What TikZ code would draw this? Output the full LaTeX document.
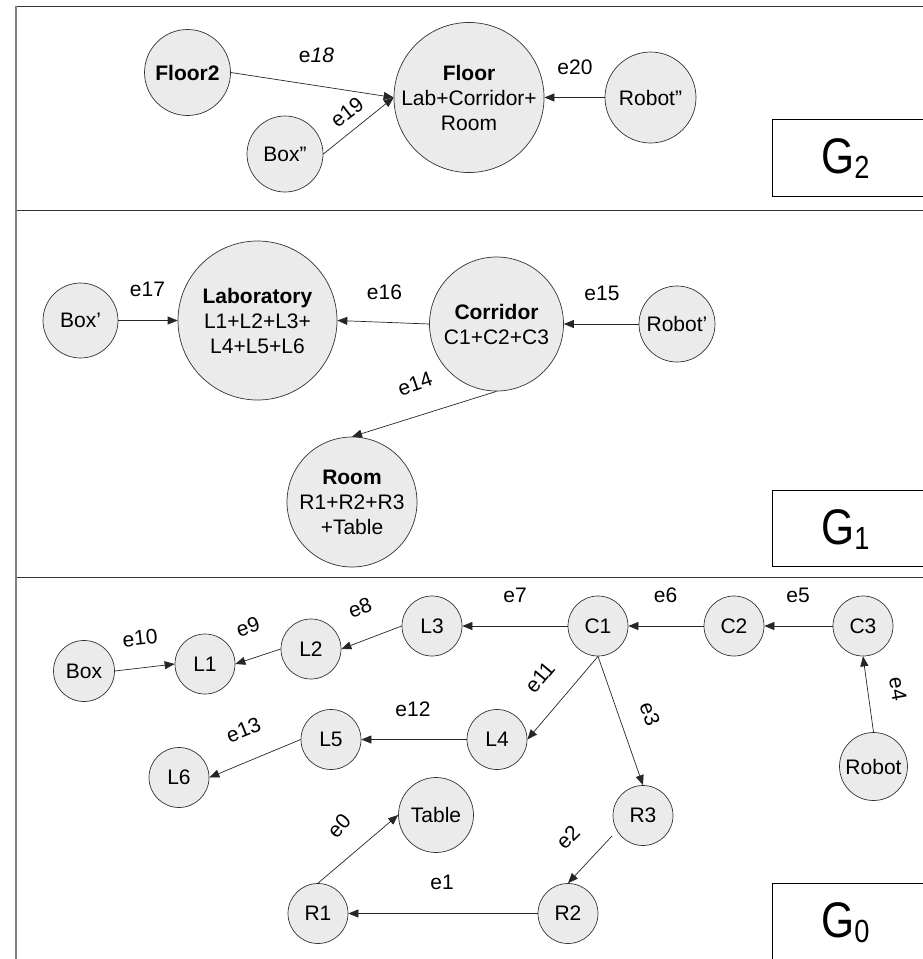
\documentclass[tikz,border=0pt]{standalone}
\usepackage{fontspec}
\setmainfont{Liberation Sans}
\usetikzlibrary{arrows.meta,calc}
\definecolor{nodefill}{HTML}{EBEBEB}
\definecolor{nodeline}{HTML}{333333}
\begin{document}
\begin{tikzpicture}[x=1pt,y=-1pt,
  vtx/.style={circle, draw=nodeline, fill=nodefill, line width=0.7pt, inner sep=0pt,
    align=center, text=black, font=\fontsize{21}{25}\selectfont},
  arc/.style={-{Triangle[length=10pt,width=8pt]}, line width=0.7pt, draw=black!85},
  lbl/.style={inner sep=0pt, font=\fontsize{21}{21}\selectfont},
  gbox/.style={draw=black, fill=white, line width=1.2pt, minimum width=152pt, inner sep=0pt},
  glbl/.style={anchor=base west, inner sep=0pt}]
\useasboundingbox (0,0) rectangle (922,959);

% frame and level separators
\draw[line width=0.8pt, black!80] (16,6) -- (923,6);
\draw[line width=0.8pt, black!80] (16,210.7) -- (923,210.7);
\draw[line width=0.8pt, black!80] (16,577) -- (923,577);
\draw[line width=1.5pt, black!50] (16,6) -- (16,960);

% level labels
\node[gbox, minimum height=77pt, anchor=north west] (g2box) at (772,119) {};
\node[glbl] (g2lbl) at (821,173) {\scalebox{0.85}[1]{\fontsize{50}{50}\selectfont G\raisebox{-5pt}{\fontsize{32}{32}\selectfont 2}}};
\node[gbox, minimum height=76pt, anchor=north west] (g1box) at (772,490) {};
\node[glbl] (g1lbl) at (821,544) {\scalebox{0.85}[1]{\fontsize{50}{50}\selectfont G\raisebox{-5pt}{\fontsize{32}{32}\selectfont 1}}};
\node[gbox, minimum height=76pt, anchor=north west] (g0box) at (772,883) {};
\node[glbl] (g0lbl) at (821,937) {\scalebox{0.85}[1]{\fontsize{50}{50}\selectfont G\raisebox{-5pt}{\fontsize{32}{32}\selectfont 0}}};

% ---------- G2 ----------
\node[vtx, minimum size=86pt] (floor2) at (187.5,72.5) {\textbf{Floor2}};
\node[vtx, minimum size=76pt] (boxpp) at (285,154) {Box”};
\node[vtx, minimum size=150pt] (floor) at (469,97.5) {\textbf{Floor}\\Lab+Corridor+\\Room};
\node[vtx, minimum size=91pt] (robotpp) at (650.5,97.5) {Robot”};

\draw[arc] (floor2.east) -- (floor.west);
\draw[arc] (boxpp.east) -- (floor.west);
\draw[arc] (robotpp.west) -- (floor.east);

\node[lbl] (e18) at (316.5,55) {e\textit{18}};
\node[lbl, rotate=38] (e19) at (347,112) {e19};
\node[lbl] (e20) at (575,67) {e20};

% ---------- G1 ----------
\node[vtx, minimum size=75pt] (boxp) at (80.5,320.5) {Box’};
\node[vtx, minimum size=159pt] (lab) at (257.5,320.5) {\textbf{Laboratory}\\L1+L2+L3+\\L4+L5+L6};
\node[vtx, minimum size=134pt] (corridor) at (496.5,324) {\textbf{Corridor}\\C1+C2+C3};
\node[vtx, minimum size=76pt] (robotp) at (677,324) {Robot’};
\node[vtx, minimum size=130pt] (room) at (352,502) {\textbf{Room}\\R1+R2+R3\\+Table};

\draw[arc] (boxp.east) -- (lab.west);
\draw[arc] (corridor.west) -- (lab.east);
\draw[arc] (robotp.west) -- (corridor.east);
\draw[arc] (corridor.south) -- (room.north);

\node[lbl] (e17) at (147.5,289) {e17};
\node[lbl] (e16) at (384.5,292) {e16};
\node[lbl] (e15) at (602,293) {e15};
\node[lbl, rotate=19] (e14) at (415,384) {e14};

% ---------- G0 ----------
\node[vtx, minimum size=60pt] (c1) at (598,626) {C1};
\node[vtx, minimum size=60pt] (c2) at (734,626) {C2};
\node[vtx, minimum size=60pt] (c3) at (863,626) {C3};
\node[vtx, minimum size=60pt] (l3) at (432,626) {L3};
\node[vtx, minimum size=60pt] (l2) at (311,649) {L2};
\node[vtx, minimum size=60pt] (l1) at (205,664) {L1};
\node[vtx, minimum size=61pt] (box) at (84,671) {Box};
\node[vtx, minimum size=60pt] (l4) at (497,739.5) {L4};
\node[vtx, minimum size=60pt] (l5) at (331,739.5) {L5};
\node[vtx, minimum size=60pt] (l6) at (179,777.5) {L6};
\node[vtx, minimum size=60pt] (r3) at (643,815.5) {R3};
\node[vtx, minimum size=60pt] (r2) at (568,913.5) {R2};
\node[vtx, minimum size=60pt] (r1) at (318,913.5) {R1};
\node[vtx, minimum size=75pt] (table) at (436,815) {Table};
\node[vtx, minimum size=68pt] (robot) at (873.5,766.5) {Robot};

\coordinate (r3out) at ($(r3.center)+(-31,20.5)$);

\draw[arc] (c3.west) -- (c2.east);
\draw[arc] (c2.west) -- (c1.east);
\draw[arc] (c1.west) -- (l3.east);
\draw[arc] (l3.west) -- (l2.east);
\draw[arc] (l2.west) -- (l1.east);
\draw[arc] (box.east) -- (l1.west);
\draw[arc] (c1.south) -- (l4.east);
\draw[arc] (c1.south) -- (r3.north);
\draw[arc] (l4.west) -- (l5.east);
\draw[arc] (l5.west) -- (l6.east);
\draw[arc] (r3out) -- (r2.north);
\draw[arc] (r2.west) -- (r1.east);
\draw[arc] (r1.north) -- (table.west);
\draw[arc] (robot.north) -- (c3.south);

\node[lbl] (e7) at (515,595) {e7};
\node[lbl] (e6) at (665.5,595) {e6};
\node[lbl] (e5) at (798,595) {e5};
\node[lbl, rotate=20] (e8) at (360,608) {e8};
\node[lbl, rotate=18] (e9) at (248,627) {e9};
\node[lbl, rotate=6] (e10) at (140,638) {e10};
\node[lbl] (e12) at (413,709) {e12};
\node[lbl, rotate=22] (e13) at (243.5,730) {e13};
\node[lbl, rotate=50] (e11) at (540,677.5) {e11};
\node[lbl, rotate=-70] (e3) at (650,714) {e3};
\node[lbl, rotate=-80] (e4) at (898,689) {e4};
\node[lbl, rotate=48] (e0) at (339,826) {e0};
\node[lbl, rotate=45] (e2) at (568,837) {e2};
\node[lbl] (e1) at (442,882) {e1};
\end{tikzpicture}
\end{document}
